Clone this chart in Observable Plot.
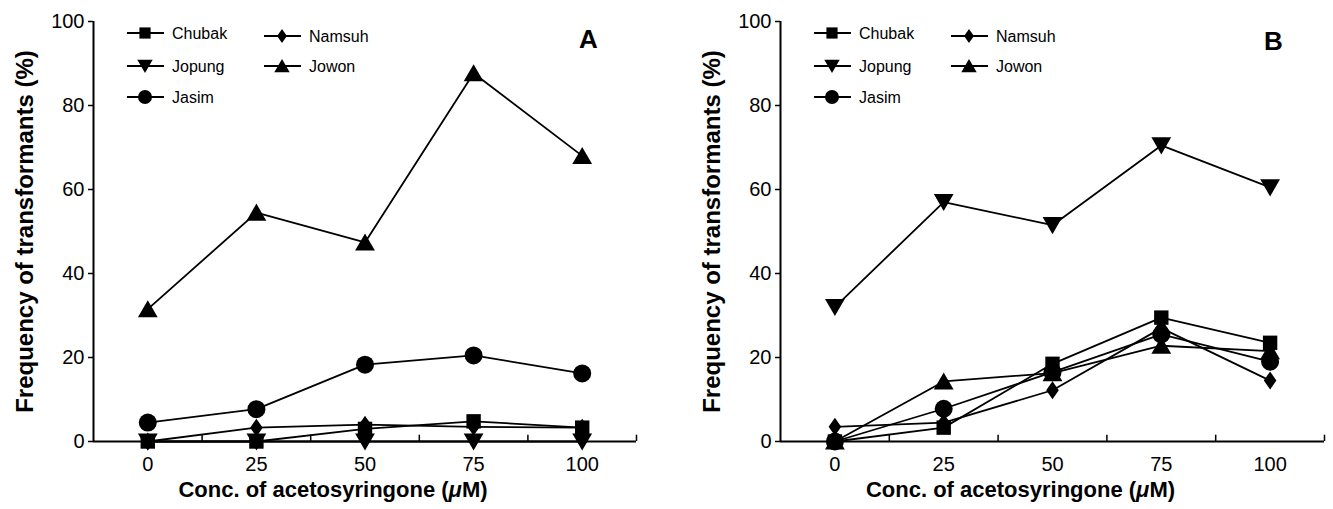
<!DOCTYPE html>
<html><head><meta charset="utf-8">
<script src="https://cdn.jsdelivr.net/npm/d3@7"></script>
<script src="https://cdn.jsdelivr.net/npm/@observablehq/plot@0.6"></script>
<style>
body{margin:0;background:#fff;}
#wrap{display:flex;width:1333px;height:509px;overflow:hidden;}
svg text{font-family:"Liberation Sans",Arial,Helvetica,sans-serif;}
</style></head><body><div id="wrap"></div>
<script>
// ---- data ----
const conc = [0, 25, 50, 75, 100];
const xTicks = [0, 25, 50, 75, 100];
const xBetweenTicks = [12.5, 37.5, 62.5, 87.5, 112.5];
const yTicks = [0, 20, 40, 60, 80, 100];
const seriesNames = ["Chubak", "Namsuh", "Jopung", "Jowon", "Jasim"];
// Panel A
const aChubak = [0, 0, 3.0, 4.8, 3.3];
const aNamsuh = [0, 3.3, 4.0, 3.5, 3.3];
const aJopung = [0, 0, 0, 0, 0];
const aJowon  = [31.5, 54.5, 47.4, 87.7, 68.0];
const aJasim  = [4.5, 7.7, 18.3, 20.5, 16.2];
// Panel B
const bChubak = [0, 3.3, 18.5, 29.5, 23.5];
const bNamsuh = [3.5, 4.5, 12.2, 27.0, 14.5];
const bJopung = [32.0, 57.0, 51.5, 70.5, 60.5];
const bJowon  = [0, 14.3, 16.3, 22.8, 21.5];
const bJasim  = [0, 7.8, 16.5, 25.5, 19.0];

const xTitle = "Conc. of acetosyringone (μM)";
const yTitle = "Frequency of transformants (%)";

// ---- symbols ----
const R = s => Math.sqrt(s / Math.PI);
const sym = {
  square: {draw(c, s){ const r = R(s) * 0.8; c.moveTo(-r,-r); c.lineTo(r,-r); c.lineTo(r,r); c.lineTo(-r,r); c.closePath(); }},
  circle: {draw(c, s){ const r = R(s); c.moveTo(r, 0); c.arc(0, 0, r, 0, 2 * Math.PI); }},
  up: {draw(c, s){ const r = R(s); c.moveTo(0, -r); c.lineTo(1.1 * r, 0.9 * r); c.lineTo(-1.1 * r, 0.9 * r); c.closePath(); }},
  down: {draw(c, s){ const r = R(s); c.moveTo(0, r); c.lineTo(1.1 * r, -0.9 * r); c.lineTo(-1.1 * r, -0.9 * r); c.closePath(); }},
  diamond: {draw(c, s){ const r = R(s); c.moveTo(0, -r); c.lineTo(0.7 * r, 0); c.lineTo(0, r); c.lineTo(-0.7 * r, 0); c.closePath(); }}
};
const seriesSymbol = {Chubak: sym.square, Namsuh: sym.diamond, Jopung: sym.down, Jowon: sym.up, Jasim: sym.circle};
const drawOrder = ["Jopung", "Jasim", "Jowon", "Namsuh", "Chubak"];

function table(vals) {
  const rows = [];
  for (const name of seriesNames) vals[name].forEach((v, i) => rows.push({series: name, conc: conc[i], value: v}));
  return rows;
}
const dataA = table({Chubak: aChubak, Namsuh: aNamsuh, Jopung: aJopung, Jowon: aJowon, Jasim: aJasim});
const dataB = table({Chubak: bChubak, Namsuh: bNamsuh, Jopung: bJopung, Jowon: bJowon, Jasim: bJasim});

const legendItems = [
  {name: "Chubak", col: 0, row: 0, dy: 0},
  {name: "Jopung", col: 0, row: 1, dy: 0},
  {name: "Jasim", col: 0, row: 2, dy: 0},
  {name: "Namsuh", col: 1, row: 0, dy: 3},
  {name: "Jowon", col: 1, row: 1, dy: 0}
];

function panel({data, width, marginLeft, marginRight, letter, letterDx, letterDy}) {
  const marginTop = 21, marginBottom = 68, height = 509;
  const dots = drawOrder.map(name =>
    Plot.dot(data.filter(d => d.series === name), {x: "conc", y: "value", symbol: seriesSymbol[name], r: 9, fill: "black", stroke: "none"}));
  const chart = Plot.plot({
    width, height, marginLeft, marginRight, marginTop, marginBottom,
    style: {fontFamily: '"Liberation Sans", Arial, Helvetica, sans-serif', background: "white", color: "black"},
    x: {domain: [-12.5, 112.5]},
    y: {domain: [0, 100]},
    marks: [
      Plot.ruleX([-12.5], {y1: 0, y2: 100, stroke: "black", strokeWidth: 2}),
      Plot.ruleY([0], {x1: -12.5, x2: 112.5, stroke: "black", strokeWidth: 2}),
      Plot.ruleX(xBetweenTicks, {y1: 0, y2: 1.5, stroke: "black", strokeWidth: 1.5}),
      Plot.axisY({ticks: yTicks, tickSize: 5, tickPadding: 4, fontSize: 20, label: null, strokeWidth: 1.5}),
      Plot.axisX({ticks: xTicks, tickSize: 0, tickPadding: 15, fontSize: 20, label: null}),
      Plot.line(data, {x: "conc", y: "value", z: "series", stroke: "black", strokeWidth: 1.8}),
      ...dots,
      Plot.text([xTitle], {frameAnchor: "bottom", dy: 55, dx: -32, fontWeight: "bold", fontSize: 22, className: "xtitle"}),
      Plot.text([yTitle], {frameAnchor: "left", rotate: -90, dx: -68, textAnchor: "middle", fontWeight: "bold", fontSize: 24}),
      Plot.text([letter], {frameAnchor: "top-right", dx: letterDx, dy: letterDy, fontWeight: "bold", fontSize: 26, textAnchor: "middle"})
    ]
  });
  // italic mu in the x title
  d3.select(chart).selectAll(".xtitle text").each(function() {
    const t = d3.select(this);
    t.text(null);
    t.append("tspan").text("Conc. of acetosyringone (");
    t.append("tspan").attr("font-style", "italic").text("μ");
    t.append("tspan").text("M)");
  });
  // legend
  const svg = d3.select(chart);
  const g = svg.append("g").attr("font-size", 16).attr("text-anchor", "start");
  const colX = [marginLeft + 34, marginLeft + 171];
  const rowY = [33, 66, 97];
  for (const it of legendItems) {
    const x0 = colX[it.col], y0 = rowY[it.row] + it.dy;
    g.append("line").attr("x1", x0).attr("x2", x0 + 37).attr("y1", y0).attr("y2", y0)
      .attr("stroke", "black").attr("stroke-width", 1.8);
    g.append("path").attr("transform", `translate(${x0 + 18},${y0})`)
      .attr("d", d3.symbol().type(seriesSymbol[it.name]).size(Math.PI * 7 * 7)()).attr("fill", "black");
    g.append("text").attr("x", x0 + 45).attr("y", y0).attr("dy", "0.35em").attr("text-anchor", "start").text(it.name);
  }
  return chart;
}

const wrap = document.getElementById("wrap");
wrap.appendChild(panel({data: dataA, width: 666, marginLeft: 93, marginRight: 30, letter: "A", letterDx: -48, letterDy: 8}));
wrap.appendChild(panel({data: dataB, width: 667, marginLeft: 114, marginRight: 9, letter: "B", letterDx: -51, letterDy: 10}));
</script></body></html>
